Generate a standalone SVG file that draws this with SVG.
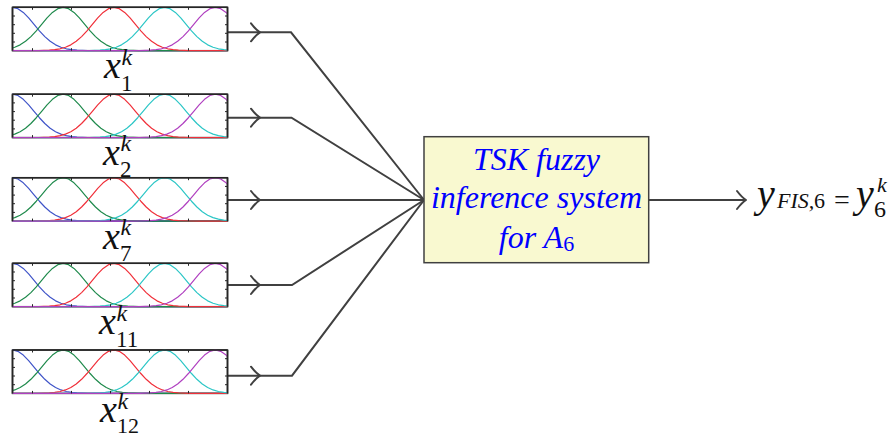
<svg xmlns="http://www.w3.org/2000/svg" width="895" height="436" viewBox="0 0 895 436">
<style>
.frame{fill:#ffffff;stroke:#262626;stroke-width:1.5}
.tick{stroke:#262626;stroke-width:1}
.mfc{fill:none;stroke-width:1.2;stroke-linejoin:round}
.conn{fill:none;stroke:#404040;stroke-width:2;stroke-linejoin:miter}
.ah{fill:none;stroke:#404040;stroke-width:2;stroke-linecap:round;stroke-linejoin:round}
.m{font-family:"Liberation Serif","Times New Roman",serif;font-style:italic;fill:#111111}
.up{font-style:normal}
.fis{font-family:"Liberation Serif","Times New Roman",serif;font-style:italic;fill:#0000ff;font-size:32px}
</style>
<defs>
<clipPath id="mfclip"><rect x="0" y="-1" width="215" height="45.4"/></clipPath>
<path id="g" d="M-300,43.4 L-86.12,43.39 L-75.36,43.30 L-64.59,42.92 L-59.21,42.41 L-53.83,41.49 L-48.44,39.95 L-43.06,37.53 L-37.68,34.01 L-32.30,29.31 L-26.91,23.53 L-21.53,17.08 L-16.15,10.64 L-10.77,5.10 L-5.38,1.34 L0,0 L5.38,1.34 L10.77,5.10 L16.15,10.64 L21.53,17.08 L26.91,23.53 L32.30,29.31 L37.68,34.01 L43.06,37.53 L48.44,39.95 L53.83,41.49 L59.21,42.41 L64.59,42.92 L75.36,43.30 L86.12,43.39 L300,43.4"/>
<g id="mf">
<rect class="frame" x="0" y="0" width="215" height="43.4"/>
<g clip-path="url(#mfclip)" class="mfc">
<use href="#g" x="0" stroke="#4055c8"/>
<use href="#g" x="50.7" stroke="#1f8a4c"/>
<use href="#g" x="101.4" stroke="#f0303a"/>
<use href="#g" x="152.1" stroke="#2cc6c6"/>
<use href="#g" x="202.8" stroke="#b040c0"/>
</g>
<path class="tick" d="M20,0v2.5M59,0v2.5M98,0v2.5M137,0v2.5M176,0v2.5M20,43.4v-2.5M59,43.4v-2.5M98,43.4v-2.5M137,43.4v-2.5M176,43.4v-2.5M0,8.7h2.5M0,17.4h2.5M0,26h2.5M0,34.7h2.5M215,8.7h-2.5M215,17.4h-2.5M215,26h-2.5M215,34.7h-2.5"/>
<path d="M0,0V43.4M215,0V43.4M0,0H215" fill="none" stroke="#262626" stroke-width="1.6"/>
</g>
<path id="ah" class="ah" d="M-9,-9 Q-4,-2.5 0,0 Q-4,2.5 -9,9"/>
</defs>

<g id="connectors">
<path class="conn" d="M227.5,32.3 H291 L424,200"/>
<path class="conn" d="M227.5,117.7 H291.5 L424,200"/>
<path class="conn" d="M227.5,200 H424"/>
<path class="conn" d="M227.5,285 H292 L424,200"/>
<path class="conn" d="M227.5,375.7 H292 L424,200"/>
<path class="conn" d="M649,200 H746"/>
<use href="#ah" x="260" y="32.3"/>
<use href="#ah" x="260" y="117.7"/>
<use href="#ah" x="260" y="200"/>
<use href="#ah" x="260" y="285"/>
<use href="#ah" x="260" y="375.7"/>
<use href="#ah" x="746" y="200"/>
</g>

<g id="node-x1">
<use href="#mf" x="12.5" y="7.3"/>
<text class="m" font-size="38"><tspan x="104" y="78">x</tspan><tspan x="121.5" y="64.8" font-size="24">k</tspan><tspan class="up" x="121" y="90.5" font-size="23">1</tspan></text>
</g>
<g id="node-x2">
<use href="#mf" x="12.5" y="94.2"/>
<text class="m" font-size="38"><tspan x="103" y="164.5">x</tspan><tspan x="120.5" y="151.3" font-size="24">k</tspan><tspan class="up" x="120" y="177" font-size="23">2</tspan></text>
</g>
<g id="node-x7">
<use href="#mf" x="12.5" y="177.7"/>
<text class="m" font-size="38"><tspan x="103" y="248.5">x</tspan><tspan x="120.5" y="235.3" font-size="24">k</tspan><tspan class="up" x="120" y="261" font-size="23">7</tspan></text>
</g>
<g id="node-x11">
<use href="#mf" x="12.5" y="263.3"/>
<text class="m" font-size="38"><tspan x="99" y="334">x</tspan><tspan x="116.5" y="320.8" font-size="24">k</tspan><tspan class="up" x="116" y="346.5" font-size="23">11</tspan></text>
</g>
<g id="node-x12">
<use href="#mf" x="12.5" y="350"/>
<text class="m" font-size="38"><tspan x="100" y="422">x</tspan><tspan x="117.5" y="408.8" font-size="24">k</tspan><tspan class="up" x="117" y="432.5" font-size="22">12</tspan></text>
</g>

<g id="node-fis">
<rect x="424" y="136.7" width="224.7" height="126" fill="#f9f9d0" stroke="#404040" stroke-width="1.5"/>
<text class="fis" x="536.5" y="170" text-anchor="middle">TSK fuzzy</text>
<text class="fis" x="536.5" y="208" text-anchor="middle">inference system</text>
<text class="fis" x="536.5" y="248" text-anchor="middle">for A<tspan class="up" font-size="22" dy="3">6</tspan></text>
</g>

<g id="node-output">
<text class="m"><tspan x="757" y="207" font-size="40">y</tspan><tspan x="777" y="208" font-size="22">FIS,</tspan><tspan class="up" x="814" y="208" font-size="22">6</tspan><tspan class="up" x="834" y="209" font-size="28">=</tspan><tspan x="856" y="207" font-size="40">y</tspan><tspan x="877" y="191.5" font-size="22">k</tspan><tspan class="up" x="874" y="216.5" font-size="24">6</tspan></text>
</g>
</svg>
